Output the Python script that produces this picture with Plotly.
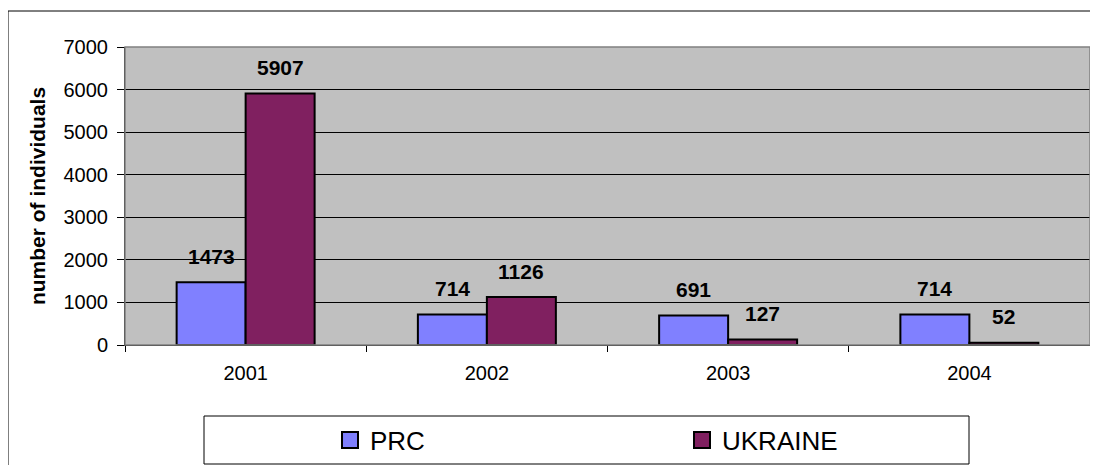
import plotly.graph_objects as go

years = ["2001", "2002", "2003", "2004"]
prc = [1473, 714, 691, 714]
ukraine = [5907, 1126, 127, 52]
series_names = ["PRC", "UKRAINE"]
series_colors = ["#8080FF", "#802060"]
y_ticks = [0, 1000, 2000, 3000, 4000, 5000, 6000, 7000]

FONT = "Liberation Sans, Arial, sans-serif"
OFF = 8  # page body margin offset in the browser
W, H = 1098 - OFF, 465 - OFF
ML, MR, MT, MB = 125 - OFF, 8, 47 - OFF, 120
PW = W - ML - MR
PH = H - MT - MB

def px_x(p):
    return (p - OFF - ML) / PW

def px_y(p):
    return (H - MB - (p - OFF)) / PH

fig = go.Figure()
for name, vals, col in zip(series_names, [prc, ukraine], series_colors):
    fig.add_trace(go.Bar(
        x=years, y=vals, name=name, showlegend=False,
        marker=dict(color=col, line=dict(color="black", width=2)),
    ))
# legend swatches (no data drawn)
for name, col in zip(series_names, series_colors):
    fig.add_trace(go.Scatter(
        x=years[:1], y=[None], mode="markers", name=name,
        marker=dict(symbol="square", size=16, color=col,
                    line=dict(color="black", width=2)),
    ))

annotations = []
for k, vals in enumerate([prc, ukraine]):
    shift = -34.5 if k == 0 else 34.5
    for i, v in enumerate(vals):
        annotations.append(dict(
            x=i, y=v, xref="x", yref="y", text=str(v), showarrow=False,
            xshift=shift, yshift=26, yanchor="middle", xanchor="center",
            font=dict(family=FONT, size=21, color="black", weight="bold"),
        ))

shapes = [
    dict(type="rect", xref="paper", yref="paper",
         x0=px_x(8), x1=px_x(1110), y0=px_y(480), y1=px_y(11),
         line=dict(color="black", width=1), fillcolor="rgba(0,0,0,0)", layer="below"),
    dict(type="rect", xref="paper", yref="paper", x0=0, x1=1, y0=0, y1=1,
         line=dict(color="#808080", width=1.5), fillcolor="rgba(0,0,0,0)", layer="above"),
    dict(type="rect", xref="paper", yref="paper",
         x0=px_x(204), x1=px_x(969), y0=px_y(464), y1=px_y(416),
         line=dict(color="black", width=1), fillcolor="white", layer="below"),
]

fig.update_layout(
    width=W, height=H,
    margin=dict(l=ML, r=MR, t=MT, b=MB, autoexpand=False),
    paper_bgcolor="white", plot_bgcolor="#C0C0C0",
    barmode="group", bargap=0.428, bargroupgap=0,
    font=dict(family=FONT, color="black"),
    xaxis=dict(
        type="category", categoryorder="array", categoryarray=years,
        range=[-0.5, len(years) - 0.5],
        tickson="boundaries", ticks="outside", ticklen=6,
        tickcolor="black", showline=True, linecolor="black", linewidth=1,
        showgrid=False, tickfont=dict(size=20), ticklabelstandoff=10,
    ),
    yaxis=dict(
        range=[0, 7000], tickvals=y_ticks, ticks="outside", ticklen=7,
        tickcolor="black", showline=True, linecolor="black", linewidth=1,
        showgrid=True, gridcolor="black", gridwidth=1, zeroline=False,
        tickfont=dict(size=20), ticklabelstandoff=5,
        title=dict(text="number of individuals", standoff=12,
                   font=dict(size=21, weight="bold")),
    ),
    showlegend=True,
    legend=dict(
        orientation="h", xanchor="left", yanchor="middle",
        x=px_x(330), y=px_y(440), bgcolor="rgba(0,0,0,0)", borderwidth=0,
        font=dict(size=26, family=FONT), entrywidth=307, entrywidthmode="pixels",
        itemsizing="trace",
    ),
    annotations=annotations,
    shapes=shapes,
)

fig.write_html("out.html")
